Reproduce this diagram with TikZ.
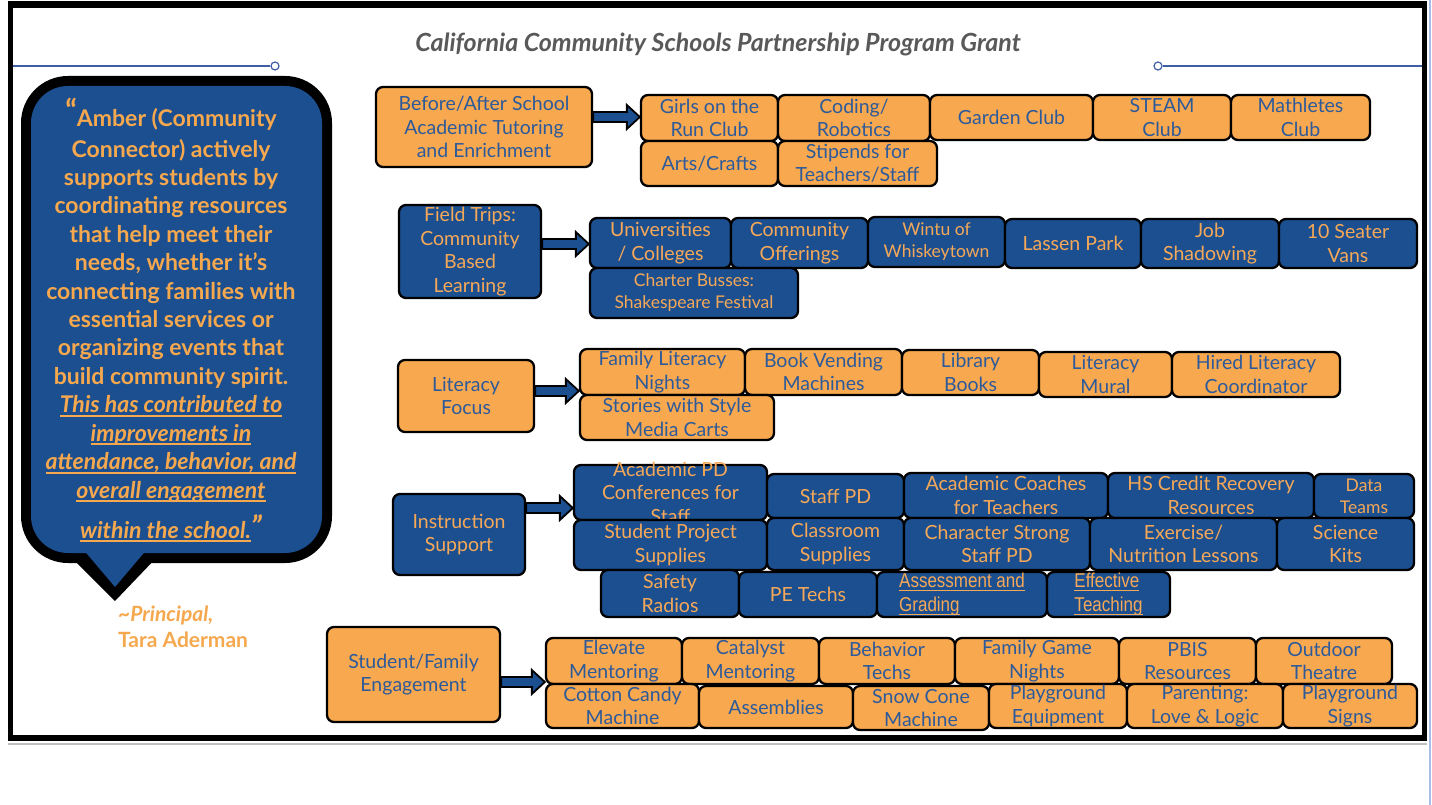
\documentclass[tikz,border=0pt]{standalone}
\usepackage{fontspec}
\setmainfont{Lato}
\newfontfamily\narrowfont[FakeStretch=0.85]{Liberation Sans}
\usetikzlibrary{calc}
\definecolor{orfill}{HTML}{F8A94F}
\definecolor{bfill}{HTML}{1C4F8F}
\definecolor{txtblue}{HTML}{2D5A9A}
\definecolor{txtor}{HTML}{F5A858}
\definecolor{qor}{HTML}{F6A84E}
\definecolor{ttlgray}{HTML}{595959}
\definecolor{lineblue}{HTML}{3F5EA6}
\definecolor{edgeblue}{HTML}{A8BCE8}
\newcommand{\qul}[1]{\setbox0=\hbox{#1}\rlap{\rule[-4pt]{\wd0}{1.6pt}}\box0}
\newcommand{\nul}[1]{\setbox0=\hbox{#1}\rlap{\rule[-3.5pt]{\wd0}{1.4pt}}\box0}
\newcommand{\mkbox}[8]{%
 \pgfmathsetmacro\mkbw{#4-#2}\pgfmathsetmacro\mkbh{#5-#3}%
 \pgfmathsetmacro\mkcx{(#2+#4)/2}\pgfmathsetmacro\mkcy{(#3+#5)/2}%
 \node[#6, minimum width=\mkbw pt, minimum height=\mkbh pt] (#1) at (\mkcx,\mkcy) {};%
 \node[#7] (#1t) at (#1.center) {#8};}
\newcommand{\blockarr}[3]{%
 \coordinate (bay) at (0,#3);
 \coordinate (ba0) at (#1.east |- bay);
 \coordinate (ba1) at (#2.west |- bay);
 \filldraw[arrowst] ($(ba0)+(0,-5)$) -- ($(ba1)+(-13,-5)$) -- ($(ba1)+(-13,-12)$) -- (ba1) -- ($(ba1)+(-13,12)$) -- ($(ba1)+(-13,5)$) -- ($(ba0)+(0,5)$) -- cycle;}
\begin{document}
\begin{tikzpicture}[x=1pt,y=-1pt,
 obox/.style={draw=black, line width=2.3pt, rounded corners=7pt, fill=orfill, inner sep=0pt},
 bbox/.style={obox, fill=bfill},
 otxt/.style={text=txtblue, align=center, inner sep=0pt, font=\fontsize{19.5}{23.5}\selectfont},
 btxt/.style={otxt, text=txtor},
 bsmall/.style={btxt, font=\fontsize{17.5}{22}\selectfont},
 bnarrow/.style={btxt, align=left, font=\narrowfont\fontsize{20}{24}\selectfont},
 arrowst/.style={fill=bfill, draw=black, line width=1.8pt, line join=miter},
 qline/.style={anchor=base, text=qor, inner sep=0pt, font=\fontsize{23}{28}\bfseries\selectfont},
 attr/.style={anchor=base west, text=qor, inner sep=0pt, font=\fontsize{21}{25}\bfseries\selectfont}]
\useasboundingbox (0,0) rectangle (1432,805);
\fill[white] (0,0) rectangle (1432,805);
% frame
\fill[black] (8,1) rectangle (1427,8);
\fill[black] (8,1) rectangle (13,741);
\fill[black] (1422,1) rectangle (1427,741);
\fill[black] (8,735) rectangle (1427,741);
\draw[black!25, line width=1.2pt] (8,744) -- (1427,744);
\draw[edgeblue, line width=2pt] (1429.5,0) -- (1429.5,805);
% title
\node[font=\fontsize{25}{30}\bfseries\itshape\selectfont, text=ttlgray] (title) at (718,44) {California Community Schools Partnership Program Grant};
% decorative lines
\node[circle, draw=lineblue, line width=1.2pt, fill=white, minimum size=8pt, inner sep=0pt] (cl) at (275,66) {};
\node[circle, draw=lineblue, line width=1.2pt, fill=white, minimum size=8pt, inner sep=0pt] (cr) at (1158,66) {};
\coordinate (ll) at (13,66);
\coordinate (lr) at (1422,66);
\draw[lineblue, line width=1.3pt] (ll) -- (cl);
\draw[lineblue, line width=1.3pt] (cr) -- (lr);
% speech bubble
\fill[black, rounded corners=47pt] (21,76) rectangle (332,563);
\fill[black] (70,556) -- (115,601) -- (158,556) -- cycle;
\fill[bfill, rounded corners=37pt] (31,86) rectangle (322,553);
\fill[bfill] (82,548) -- (115,587) -- (148,548) -- cycle;
\node[qline] (q1) at (171,127) {\raisebox{5pt}{\fontsize{30}{30}\selectfont “}Amber (Community};
\node[qline] (q2) at (171,157.5) {Connector) actively};
\node[qline] (q3) at (171,186) {supports students by};
\node[qline] (q4) at (171,213.5) {coordinating resources};
\node[qline] (q5) at (171,243) {that help meet their};
\node[qline] (q6) at (171,270.5) {needs, whether it’s};
\node[qline] (q7) at (171,299) {connecting families with};
\node[qline] (q8) at (171,327.5) {essential services or};
\node[qline] (q9) at (171,355.5) {organizing events that};
\node[qline] (q10) at (171,384) {build community spirit.};
\node[qline] (q11) at (171,412.5) {\itshape\qul{This has contributed to}};
\node[qline] (q12) at (171,441) {\itshape\qul{improvements in}};
\node[qline] (q13) at (171,469.5) {\itshape\qul{attendance, behavior, and}};
\node[qline] (q14) at (171,498) {\itshape\qul{overall engagement}};
\node[qline] (q15) at (171,538) {\itshape\qul{within the school.}\raisebox{1pt}{\fontsize{30}{30}\selectfont ”}};
\node[attr, font=\fontsize{21}{25}\bfseries\itshape\selectfont] (prin) at (118,621) {\textasciitilde Principal,};
\node[attr] (tara) at (118,647) {Tara Aderman};
% Row 1
\mkbox{A}{376}{87}{592}{167}{obox}{otxt}{Before/After School\\Academic Tutoring\\and Enrichment}
\mkbox{a1}{641}{95}{778}{141}{obox}{otxt}{Girls on the\\Run Club}
\mkbox{a2}{778}{95}{930}{141}{obox}{otxt}{Coding/\\Robotics}
\mkbox{a3}{930}{95}{1093}{140}{obox}{otxt}{Garden Club}
\mkbox{a4}{1093}{95}{1231}{140}{obox}{otxt}{STEAM\\Club}
\mkbox{a5}{1231}{95}{1370}{140}{obox}{otxt}{Mathletes\\Club}
\mkbox{a6}{641}{141}{778}{186}{obox}{otxt}{Arts/Crafts}
\mkbox{a7}{778}{141}{937}{186}{obox}{otxt}{Stipends for\\Teachers/Staff}
\blockarr{A}{a1}{117}
% Row 2
\mkbox{B}{399}{205}{541}{298}{bbox}{btxt}{Field Trips:\\Community\\Based\\Learning}
\mkbox{b1}{590}{218}{731}{268}{bbox}{btxt}{Universities\\/ Colleges}
\mkbox{b2}{731}{218}{868}{268}{bbox}{btxt}{Community\\Offerings}
\mkbox{b3}{868}{217}{1005}{267}{bbox}{bsmall}{Wintu of\\Whiskeytown}
\mkbox{b4}{1005}{219}{1141}{268}{bbox}{btxt}{Lassen Park}
\mkbox{b5}{1141}{219}{1279}{268}{bbox}{btxt}{Job\\Shadowing}
\mkbox{b6}{1279}{219}{1417}{268}{bbox}{btxt}{10 Seater\\Vans}
\mkbox{b7}{590}{268}{798}{318}{bbox}{bsmall}{Charter Busses:\\Shakespeare Festival}
\blockarr{B}{b1}{244}
% Row 3
\mkbox{C}{398}{360}{534}{432}{obox}{otxt}{Literacy\\Focus}
\mkbox{c1}{580}{349}{745}{395}{obox}{otxt}{Family Literacy\\Nights}
\mkbox{c2}{745}{349}{902}{395}{obox}{otxt}{Book Vending\\Machines}
\mkbox{c3}{902}{350}{1039}{395}{obox}{otxt}{Library\\Books}
\mkbox{c4}{1039}{352}{1172}{397}{obox}{otxt}{Literacy\\Mural}
\mkbox{c5}{1172}{352}{1340}{397}{obox}{otxt}{Hired Literacy\\Coordinator}
\mkbox{c6}{580}{395}{774}{440}{obox}{otxt}{Stories with Style\\Media Carts}
\blockarr{C}{c1}{391}
% Row 4
\mkbox{D}{393}{494}{525}{575}{bbox}{btxt}{Instruction\\Support}
\mkbox{d1}{574}{465}{767}{520}{bbox}{btxt}{Academic PD\\Conferences for\\Staff}
\mkbox{d2}{767}{474}{904}{518}{bbox}{btxt}{Staff PD}
\mkbox{d3}{904}{473}{1108}{518}{bbox}{btxt}{Academic Coaches\\for Teachers}
\mkbox{d4}{1108}{473}{1314}{518}{bbox}{btxt}{HS Credit Recovery\\Resources}
\mkbox{d5}{1314}{474}{1414}{518}{bbox}{bsmall}{Data\\Teams}
\mkbox{d6}{574}{520}{767}{570}{bbox}{btxt}{Student Project\\Supplies}
\mkbox{d7}{767}{518}{904}{570}{bbox}{btxt}{Classroom\\Supplies}
\mkbox{d8}{904}{518}{1090}{570}{bbox}{btxt}{Character Strong\\Staff PD}
\mkbox{d9}{1090}{518}{1277}{570}{bbox}{btxt}{Exercise/\\Nutrition Lessons}
\mkbox{d10}{1277}{518}{1414}{570}{bbox}{btxt}{Science\\Kits}
\mkbox{d11}{601}{570}{739}{617}{bbox}{btxt}{Safety\\Radios}
\mkbox{d12}{739}{572}{877}{617}{bbox}{btxt}{PE Techs}
\mkbox{d13}{877}{572}{1047}{617}{bbox}{bnarrow}{\nul{Assessment and}\\\nul{Grading}}
\mkbox{d14}{1047}{572}{1170}{617}{bbox}{bnarrow}{\nul{Effective}\\\nul{Teaching}}
\blockarr{D}{d1}{508}
% Row 5
\mkbox{E}{327}{627}{500}{722}{obox}{otxt}{Student/Family\\Engagement}
\mkbox{e1}{546}{638}{682}{684}{obox}{otxt}{Elevate\\Mentoring}
\mkbox{e2}{682}{638}{819}{684}{obox}{otxt}{Catalyst\\Mentoring}
\mkbox{e3}{819}{638}{955}{684}{obox}{otxt}{Behavior\\Techs}
\mkbox{e4}{955}{638}{1119}{684}{obox}{otxt}{Family Game\\Nights}
\mkbox{e5}{1119}{638}{1256}{684}{obox}{otxt}{PBIS\\Resources}
\mkbox{e6}{1256}{638}{1392}{684}{obox}{otxt}{Outdoor\\Theatre}
\mkbox{e7}{546}{684}{699}{728}{obox}{otxt}{Cotton Candy\\Machine}
\mkbox{e8}{699}{686}{853}{728}{obox}{otxt}{Assemblies}
\mkbox{e9}{853}{686}{989}{730}{obox}{otxt}{Snow Cone\\Machine}
\mkbox{e10}{989}{684}{1127}{728}{obox}{otxt}{Playground\\Equipment}
\mkbox{e11}{1127}{684}{1283}{728}{obox}{otxt}{Parenting:\\Love \& Logic}
\mkbox{e12}{1283}{684}{1417}{728}{obox}{otxt}{Playground\\Signs}
\blockarr{E}{e1}{682}
\end{tikzpicture}
\end{document}
